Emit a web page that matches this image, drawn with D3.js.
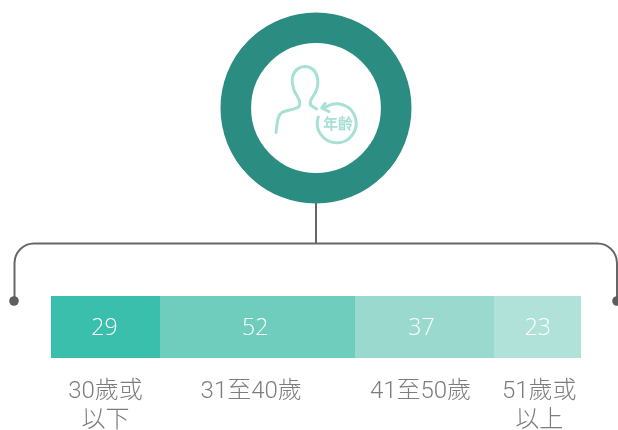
<!DOCTYPE html>
<html>
<head>
<meta charset="utf-8">
<script src="https://cdn.jsdelivr.net/npm/d3@7"></script>
<style>
html, body { margin: 0; padding: 0; background: #fff; }
svg { display: block; will-change: transform; }
</style>
</head>
<body>
<svg id="chart"></svg>
<script>
const width = 618, height = 430;

// Data
const ageValues = [29, 52, 37, 23];
const ageLabels = [["30歲或", "以下"], ["31至40歲"], ["41至50歲"], ["51歲或", "以上"]];
const barColors = ["#3bbfad", "#6ecdbd", "#9ad9ce", "#b1e2da"];

const svg = d3.select("#chart")
    .attr("width", width)
    .attr("height", height)
    .attr("viewBox", [0, 0, width, height]);

// Stacked bar
const total = d3.sum(ageValues);
const xScale = d3.scaleLinear().domain([0, total]).range([51, 581]);
const cumulative = d3.cumsum(ageValues);
const segments = ageValues.map((v, i) => ({
    value: v,
    start: i === 0 ? 0 : cumulative[i - 1],
    end: cumulative[i],
    label: ageLabels[i],
    color: barColors[i]
}));

// Text in the original is not exactly centred on the segments
const valueNudge = [-1, -2.5, -3.5, 0];
const labelNudge = [0, -6.5, -4.5, 1.5];

svg.selectAll(".segment")
    .data(segments)
    .enter()
    .append("rect")
    .attr("class", "segment")
    .attr("x", d => Math.floor(xScale(d.start)))
    .attr("y", 296)
    .attr("width", d => Math.floor(xScale(d.end)) - Math.floor(xScale(d.start)))
    .attr("height", 62)
    .attr("fill", d => d.color);

svg.selectAll(".value-label")
    .data(segments)
    .enter()
    .append("text")
    .attr("class", "value-label")
    .attr("x", (d, i) => (xScale(d.start) + xScale(d.end)) / 2 + valueNudge[i])
    .attr("y", 335)
    .attr("text-anchor", "middle")
    .attr("font-family", "'Open Sans', sans-serif")
    .attr("font-weight", 300)
    .attr("font-size", 23)
    .attr("fill", "#fff")
    .text(d => d.value);

const labels = svg.selectAll(".age-label")
    .data(segments)
    .enter()
    .append("text")
    .attr("class", "age-label")
    .attr("text-anchor", "middle")
    .attr("font-family", "Roboto, 'Noto Sans CJK TC', sans-serif")
    .attr("font-weight", 300)
    .attr("font-size", 24)
    .attr("fill", "#7d7d7d");

labels.selectAll("tspan")
    .data((d, i) => d.label.map((line, j) => ({ line, j, cx: (xScale(d.start) + xScale(d.end)) / 2 + labelNudge[i] })))
    .enter()
    .append("tspan")
    .attr("x", d => d.cx)
    .attr("y", d => 398 + d.j * 29)
    .text(d => d.line);

// Bracket from the ring down to the bar
const bracket = d3.path();
bracket.moveTo(14.5, 301);
bracket.lineTo(14.5, 263);
bracket.arcTo(14.5, 243.5, 34, 243.5, 19.5);
bracket.lineTo(597.5, 243.5);
bracket.arcTo(617, 243.5, 617, 263, 19.5);
bracket.lineTo(617, 301);
svg.append("path")
    .attr("d", bracket.toString())
    .attr("fill", "none")
    .attr("stroke", "#666")
    .attr("stroke-width", 2);

svg.append("line")
    .attr("x1", 316).attr("x2", 316)
    .attr("y1", 200).attr("y2", 243.5)
    .attr("stroke", "#666")
    .attr("stroke-width", 2);

svg.selectAll(".bracket-dot")
    .data([14, 617])
    .enter()
    .append("circle")
    .attr("class", "bracket-dot")
    .attr("cx", d => d)
    .attr("cy", 301)
    .attr("r", 4.8)
    .attr("fill", "#5d5d5f");

// Ring
svg.append("circle")
    .attr("cx", 316)
    .attr("cy", 108)
    .attr("r", 80.2)
    .attr("fill", "#fff")
    .attr("stroke", "#2b8c82")
    .attr("stroke-width", 30.6);

// Person icon
const iconColor = "#a8e0d5";
const icon = svg.append("g")
    .attr("fill", "none")
    .attr("stroke", iconColor)
    .attr("stroke-width", 3)
    .attr("stroke-linecap", "round")
    .attr("stroke-linejoin", "round");

const personLine = d3.line().curve(d3.curveCatmullRom.alpha(0.5));
icon.append("path").attr("d", personLine([
    [276, 132.5], [279, 116], [282, 112.5], [299, 106.5], [299.5, 101],
    [294, 90], [292.5, 77], [297.5, 69], [305, 66.5], [313, 69.5],
    [317.5, 78], [316.5, 90], [310.5, 101], [310.5, 105]
]));
icon.append("path").attr("d", d3.line()([[310.5, 105], [316.5, 109]]));

// Clock arrow around the age text
const arc = d3.arc()
    .innerRadius(19.5)
    .outerRadius(19.5)
    .startAngle(-35 * Math.PI / 180)
    .endAngle(289 * Math.PI / 180);
icon.append("path")
    .attr("transform", "translate(336.7,123.3)")
    .attr("d", arc());
icon.append("path").attr("d", d3.line()([[325, 103.5], [321.7, 108], [329, 111.5]]));

svg.append("text")
    .attr("x", 338)
    .attr("y", 128.5)
    .attr("text-anchor", "middle")
    .attr("font-family", "'Noto Sans CJK TC', sans-serif")
    .attr("font-weight", 700)
    .attr("font-size", 15)
    .attr("fill", iconColor)
    .text("年齡");
</script>
</body>
</html>
